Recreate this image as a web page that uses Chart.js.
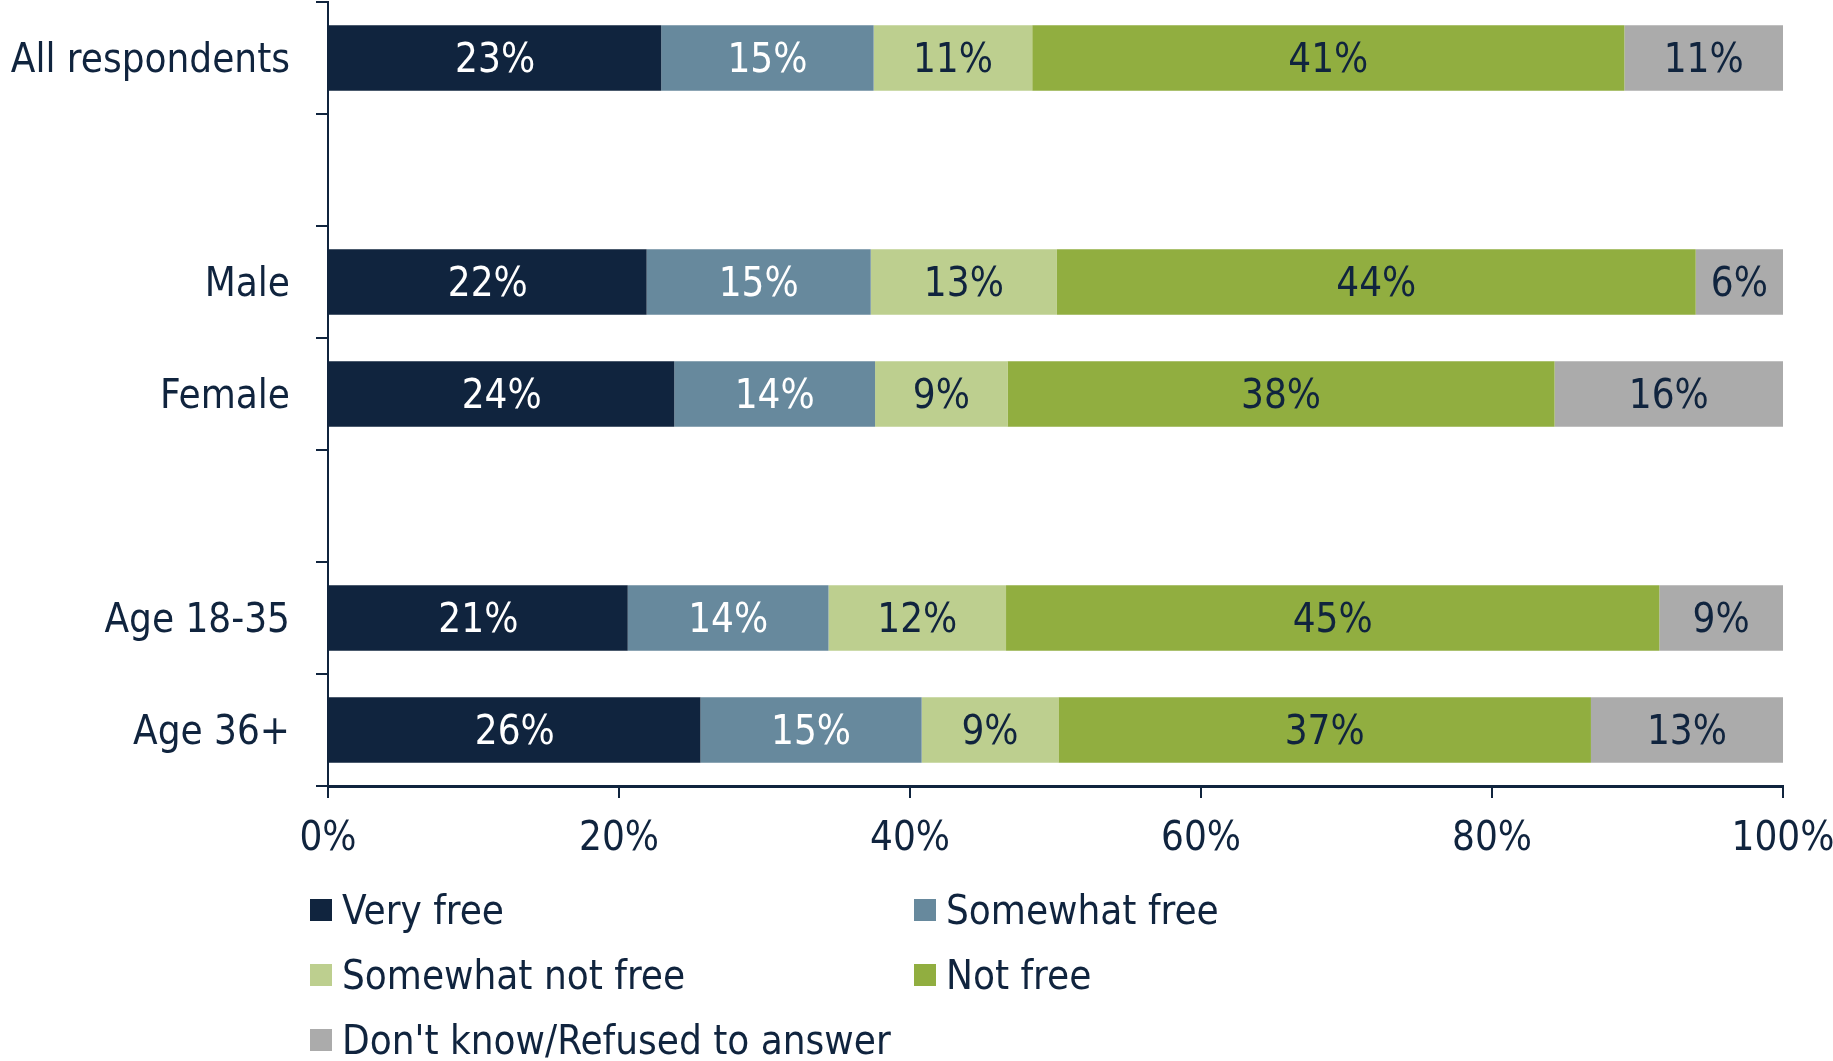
<!DOCTYPE html>
<html>
<head>
<meta charset="utf-8">
<script src="https://cdn.jsdelivr.net/npm/chart.js@4.4.1/dist/chart.umd.min.js"></script>
<style>
  html, body { margin: 0; padding: 0; background: #ffffff; }
  #wrap { position: absolute; left: 0; top: 0; width: 1833px; height: 1061px; }
  #legend { position: absolute; left: 0; top: 0; width: 1833px; height: 1061px; pointer-events: none; }
  .item { position: absolute; display: flex; align-items: center; height: 44px;
          font-family: "DejaVu Sans Condensed", "DejaVu Sans", sans-serif; font-size: 40px; color: #10243E; white-space: nowrap; }
  .box { width: 22px; height: 22px; margin-right: 10px; }
</style>
</head>
<body>
<div id="wrap"><canvas id="c" width="1833" height="1061"></canvas></div>
<div id="legend"></div>
<script>
const categories = ['All respondents', '', 'Male', 'Female', '', 'Age 18-35', 'Age 36+'];
const seriesNames = ['Very free', 'Somewhat free', 'Somewhat not free', 'Not free', "Don't know/Refused to answer"];
const veryFree        = [22.9, null, 21.9, 23.8, null, 20.6, 25.6];
const somewhatFree    = [14.6, null, 15.4, 13.8, null, 13.8, 15.2];
const somewhatNotFree = [10.9, null, 12.8,  9.1, null, 12.2,  9.4];
const notFree         = [40.7, null, 43.9, 37.6, null, 44.9, 36.6];
const dontKnow        = [10.9, null,  6.0, 15.7, null,  8.5, 13.2];
const xTicks = [0, 20, 40, 60, 80, 100];

const colors = ['#10243E', '#67899D', '#BDCF8F', '#91AE40', '#ABABAB'];
const labelColors = ['#FFFFFF', '#FFFFFF', '#10243E', '#10243E', '#10243E'];
const FONT = '"DejaVu Sans Condensed", "DejaVu Sans", sans-serif';
const FS = 40;
const NAVY = '#10243E';

const seriesValues = [veryFree, somewhatFree, somewhatNotFree, notFree, dontKnow];
const datasets = seriesValues.map((vals, i) => ({
  label: seriesNames[i],
  data: vals,
  backgroundColor: colors[i],
  borderWidth: 0,
  barPercentage: 0.585,
  categoryPercentage: 1.0
}));

const valueLabels = {
  id: 'valueLabels',
  afterDatasetsDraw(chart) {
    const ctx = chart.ctx;
    ctx.save();
    ctx.font = FS + 'px ' + FONT;
    ctx.textAlign = 'center';
    ctx.textBaseline = 'middle';
    chart.data.datasets.forEach((ds, di) => {
      const meta = chart.getDatasetMeta(di);
      meta.data.forEach((el, i) => {
        const v = ds.data[i];
        if (v === null || v === undefined) return;
        const cx = (el.x + el.base) / 2;
        ctx.fillStyle = labelColors[di];
        ctx.fillText(Math.round(v) + '%', cx, el.y + 4);
      });
    });
    ctx.restore();
  }
};

new Chart(document.getElementById('c'), {
  type: 'bar',
  data: { labels: categories, datasets: datasets },
  options: {
    indexAxis: 'y',
    responsive: false,
    animation: false,
    layout: { padding: { top: 2, right: 50, left: 0, bottom: 0 } },
    plugins: { legend: { display: false }, tooltip: { enabled: false } },
    scales: {
      x: {
        stacked: true,
        min: 0, max: 100,
        afterFit(scale) { scale.height = 1061 - 786; scale.paddingLeft = 0; scale.paddingRight = 0; },
        afterBuildTicks(scale) { scale.ticks = xTicks.map(v => ({ value: v })); },
        border: { display: true, color: NAVY, width: 3 },
        grid: { drawOnChartArea: false, drawTicks: true, tickLength: 12, color: NAVY, lineWidth: 2 },
        ticks: {
          color: NAVY, font: { family: FONT, size: FS }, padding: 18, maxRotation: 0,
          callback: v => v + '%'
        }
      },
      y: {
        stacked: true,
        afterFit(scale) { scale.width = 328; scale.paddingTop = 0; scale.paddingBottom = 0; },
        border: { display: true, color: NAVY, width: 2 },
        grid: { drawOnChartArea: false, drawTicks: true, tickLength: 12, color: NAVY, lineWidth: 2, offset: true },
        ticks: { color: NAVY, font: { family: FONT, size: FS }, padding: 26, labelOffset: 4 }
      }
    }
  },
  plugins: [valueLabels]
});

// legend: two columns, three rows
const legendPos = [[310, 910], [914, 910], [310, 975], [914, 975], [310, 1040]];
const leg = document.getElementById('legend');
seriesNames.forEach((name, i) => {
  const d = document.createElement('div');
  d.className = 'item';
  d.style.left = legendPos[i][0] + 'px';
  d.style.top = (legendPos[i][1] - 22) + 'px';
  const b = document.createElement('span');
  b.className = 'box';
  b.style.background = colors[i];
  const t = document.createElement('span');
  t.textContent = name;
  d.appendChild(b); d.appendChild(t);
  leg.appendChild(d);
});
</script>
</body>
</html>
